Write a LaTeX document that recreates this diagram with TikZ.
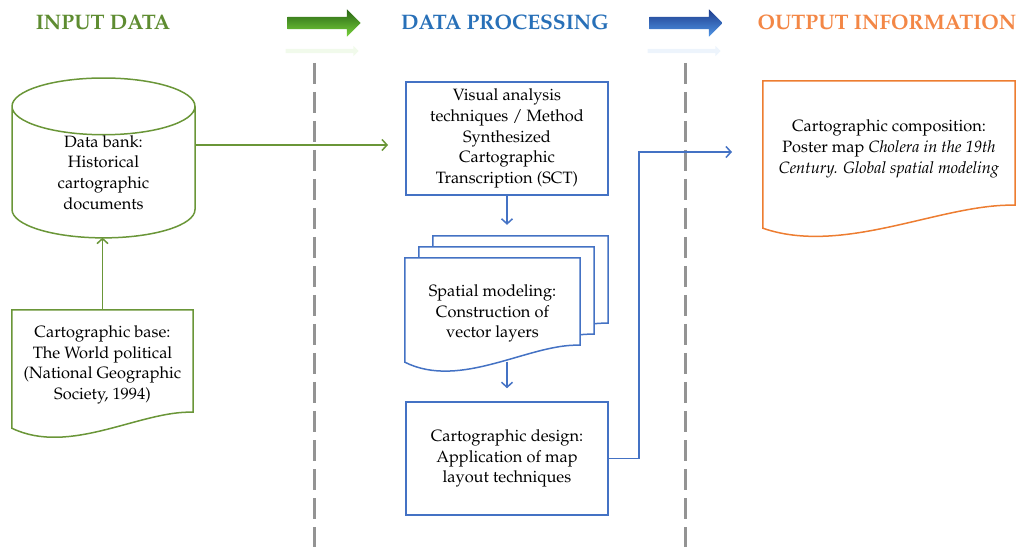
\documentclass[tikz,border=0pt]{standalone}
\usepackage[T1]{fontenc}
\usepackage{mathpazo}
\usetikzlibrary{shapes.geometric, shapes.arrows, arrows.meta, positioning, calc, backgrounds}

\definecolor{inputgreen}{RGB}{106, 150, 56}
\definecolor{headgreen}{RGB}{94, 140, 49}
\definecolor{procblue}{RGB}{68, 114, 196}
\definecolor{headblue}{RGB}{40, 112, 184}
\definecolor{outorange}{RGB}{237, 125, 49}
\definecolor{headorange}{RGB}{243, 135, 70}
\definecolor{arrowgreendark}{RGB}{40, 100, 20}
\definecolor{arrowgreen}{RGB}{120, 210, 60}
\definecolor{arrowbluedark}{RGB}{30, 60, 140}
\definecolor{arrowblue}{RGB}{80, 150, 230}

\tikzset{
  header/.style={font=\fontsize{21}{25}\selectfont\bfseries},
  body/.style={font=\fontsize{16.4}{20.6}\selectfont, align=center, inner sep=0pt},
  procbox/.style={body, draw=procblue, line width=1.5pt, minimum width=202pt, minimum height=113pt},
  docbox/.style={body},
  divider/.style={draw=gray!85, line width=3pt, dash pattern=on 21pt off 8pt},
  greenflow/.style={draw=inputgreen, line width=1.5pt, -{Straight Barb[length=5pt, width=11pt]}},
  blueflow/.style={draw=procblue, line width=1.5pt, -{Straight Barb[length=5pt, width=11pt]}},
  flowarrow/.style={single arrow, minimum height=73pt, minimum width=27pt,
    single arrow head extend=7.5pt, inner xsep=0pt, inner ysep=6pt},
}

% document outline with a wavy bottom edge: colour, node, right and left end of the wave
\newcommand{\docborder}[4]{%
  \draw[#1, line width=1.5pt, fill=white]
    (#2.north west) -- (#2.north east) -- ([yshift=#3]#2.south east)
    .. controls ($(#2.south west)!0.71!(#2.south east)+(0,#3+2)$)
    and ($(#2.south west)!0.32!(#2.south east)+(0,#4-28)$)
    .. ([yshift=#4]#2.south west) -- cycle;}

\begin{document}
\begin{tikzpicture}[x=1pt, y=1pt]
  \useasboundingbox (0,0) rectangle (1021,547);

  % column titles
  \foreach \x/\col/\txt/\nm in {
    103/headgreen/{INPUT DATA}/input,
    505/headblue/{DATA PROCESSING}/proc,
    887/headorange/{OUTPUT INFORMATION}/output
  } {
    \node[header, text=\col] (head-\nm) at (\x, 525) {\txt};
  }

  % shaded arrows between the titles
  \foreach \x/\dark/\light/\nm in {
    321/arrowgreendark/arrowgreen/green,
    683/arrowbluedark/arrowblue/blue
  } {
    \node[flowarrow, top color=\dark, bottom color=\light] (arrow-\nm) at (\x, 524) {};
    \node[flowarrow, inner ysep=2pt, minimum width=10pt, single arrow head extend=3pt,
      fill=\light, opacity=0.1] (mirror-\nm) at (\x, 496) {};
  }

  % dashed column dividers
  \foreach \x in {314, 685} {
    \draw[divider] (\x, 484) -- (\x, 0);
  }

  % input data
  \node[cylinder, shape border rotate=90, aspect=0.62, draw=inputgreen, line width=1.5pt,
    minimum width=183pt, minimum height=123pt, body] (bank) at (103.5, 374.5)
    {Data bank:\\Historical\\cartographic\\documents};
  \node[docbox, minimum width=181pt, minimum height=110pt] (base) at (102.5, 182)
    {Cartographic base:\\The World political\\(National Geographic\\Society, 1994)};

  % data processing
  \node[procbox] (sct) at (507, 408.5)
    {Visual analysis\\techniques / Method\\Synthesized\\Cartographic\\Transcription (SCT)};
  \node[docbox, minimum width=175pt, minimum height=111.5pt] (layers) at (492.5, 233.25)
    {Spatial modeling:\\Construction of\\vector layers};
  \node[docbox, minimum width=175pt, minimum height=111.5pt] (layers2) at ($(layers)+(14,11)$) {};
  \node[docbox, minimum width=175pt, minimum height=111.5pt] (layers3) at ($(layers)+(28,22)$) {};
  \node[procbox] (design) at (507, 88.5)
    {Cartographic design:\\Application of map\\layout techniques};

  % output information
  \node[docbox, minimum width=252pt, minimum height=135.5pt] (poster) at (889, 398.25)
    {Cartographic composition:\\Poster map \textit{Cholera in the 19th}\\\textit{Century. Global spatial modeling}};

  \begin{scope}[on background layer]
    \docborder{inputgreen}{base}{8}{-8}
    \docborder{procblue}{layers3}{24.5}{7.5}
    \docborder{procblue}{layers2}{24.5}{7.5}
    \docborder{procblue}{layers}{24.5}{7.5}
    \docborder{outorange}{poster}{11.5}{-11.5}
  \end{scope}

  % connections
  \coordinate (sct-in) at (388, 402);
  \coordinate (poster-in) at (732, 395);
  \draw[greenflow] (bank.east |- sct-in) -- (sct-in);
  \draw[greenflow] (base.north) -- ($(base.north |- bank.south)+(0,1)$);
  \draw[blueflow] (sct.south) -- ($(sct.south |- layers3.north)+(0,11)$);
  \draw[blueflow] ($(design.north |- layers.south)+(0,8)$) -- ($(design.north)+(0,13)$);
  \draw[blueflow] (design.east) -- ++(30,0) |- (poster-in);
\end{tikzpicture}
\end{document}
